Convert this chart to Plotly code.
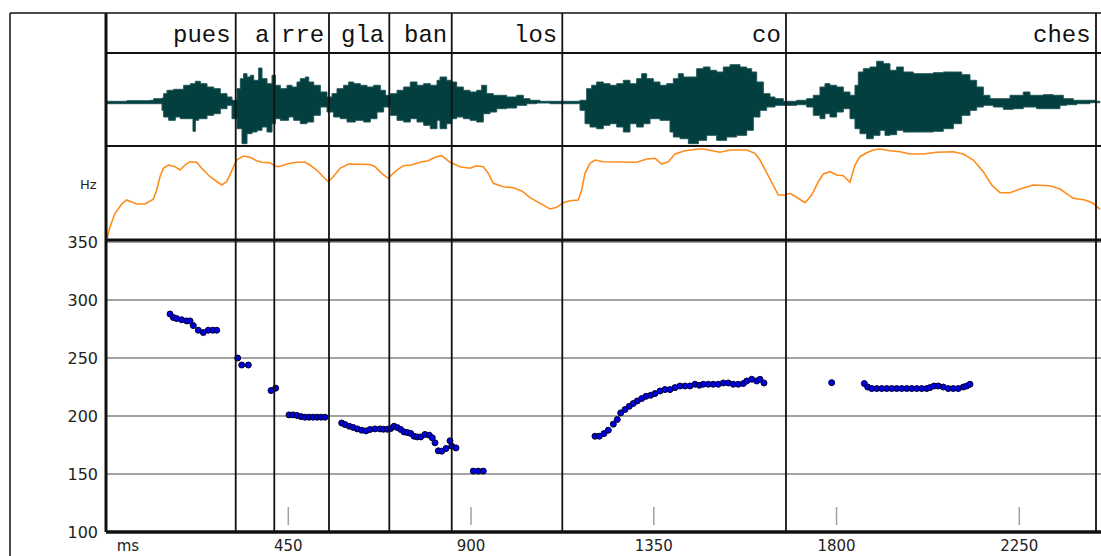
import plotly.graph_objects as go

# ---------------- data ----------------
syllables = ["pues", "a", "rre", "gla", "ban", "los", "co", "ches"]
syllable_end_ms = [320.5, 415.5, 550.2, 698.7, 852.4, 1124.7, 1675.5, 2438.9]

f0_ms = [158.7, 166.8, 175.2, 187.5, 199.8, 208, 216.1, 228.4, 240.7, 253, 263.8, 273.7,
         325.4, 335.3, 351.5,
         407.4, 419,
         451.7, 461.6, 471.4, 481.3, 491.1, 501, 510.8, 520.7, 530.5, 540.4,
         581.5, 589.6, 600.2, 610.1, 619.9, 630.7, 641.3, 651.2, 663.5, 675.8, 683.9, 693.8,
         702.2, 710.3, 718.4, 726.8, 734.9, 743, 751.4, 759.5, 767.6, 776, 786.6, 797.2,
         804.6, 811.2, 819.4, 827.7, 838.3, 848.2, 852.4, 862.9,
         905.5, 917.9, 930.2,
         1205.2, 1215.8, 1227.4, 1238, 1250.3, 1260.1, 1268.5, 1279.1, 1289.7, 1299.5,
         1309.4, 1320.2, 1330.8, 1342.4, 1353, 1365.3, 1377.6, 1389.9, 1402.2, 1414.5,
         1426.8, 1439.2, 1451.5, 1462.1, 1471.9, 1484.2, 1496.5, 1508.8, 1521.1, 1533.5,
         1545.8, 1558.1, 1570.4, 1578.8, 1591.1, 1603.4, 1611.5, 1621.4,
         1788,
         1868.4, 1876.7, 1886.6, 1898.9, 1911.2, 1923.5, 1935.8, 1948.1, 1960.4, 1972.8,
         1985.1, 1997.4, 2009.7, 2022, 2030.1, 2040, 2050.6, 2062.9, 2075.2, 2087.5,
         2099.8, 2112.1, 2120.5, 2128.6]
f0_hz = [288, 285, 284, 283, 282, 282, 278, 274, 272, 274, 274, 274,
         250, 244, 244,
         222, 224,
         201, 201, 200.5, 199.5, 199, 199, 199, 199, 199, 199,
         194, 192.7, 191.2, 190.1, 188.9, 187.8, 187.2, 188.4, 188.9, 188.9, 188.6, 188.6,
         189.2, 191.2, 190.1, 188.4, 186.3, 185.8, 185, 182.6, 182, 182, 184.1, 183.5,
         181.2, 176.9, 170, 169.7, 172, 178.6, 174, 172.5,
         152.5, 152.5, 152.5,
         182.6, 182.6, 184.9, 187.8, 193, 197, 202.7, 205.6, 208.4, 210.8,
         213, 215.1, 217, 217.9, 219.4, 221.6, 222.8, 222.8, 224.5, 225.9,
         225.9, 225.9, 227.4, 226.5, 227.4, 227.4, 227.4, 227.4, 228.5, 228.5,
         227.4, 227.4, 228, 230.2, 231.7, 230.2, 231.7, 228.5,
         228.8,
         228, 225, 223.7, 223.7, 223.7, 223.7, 223.7, 223.7, 223.7, 223.7,
         223.7, 223.7, 223.7, 223.7, 224.5, 225.9, 225.9, 225, 223.7, 223.7,
         223.7, 225, 225.9, 227.4]

contour_ms = [3.6, 11, 23.3, 39.8, 52.1, 64.4, 76.7, 97.1, 117.6, 126, 134.1, 142.2, 154.5,
              171, 183.3, 195.6, 207.9, 224.4, 236.8, 257.2, 273.7, 286, 298.3, 310.6,
              322.9, 339.2, 355.7, 372.2, 384.5, 404.9, 417.3, 425.4, 437.7, 454.2, 470.7,
              491.1, 503.4, 519.9, 536.2, 548.5, 560.8, 577.3, 597.7, 626.5, 651.2, 663.5,
              680, 696.3, 712.7, 733.2, 753.9, 774.3, 794.7, 811.2, 827.7, 848.2, 872.8,
              897.4, 913.9, 930.2, 942.5, 954.8, 979.4, 1004, 1024.7, 1045.2, 1065.6,
              1094.4, 1110.9, 1127.2, 1143.7, 1164.1, 1172.5, 1180.6, 1192.9, 1205.2,
              1225.7, 1266.8, 1307.9, 1332.5, 1353, 1369.5, 1385.7, 1402.2, 1426.8,
              1459.6, 1471.9, 1513, 1537.6, 1578.8, 1599.2, 1611.5, 1628, 1644.3, 1656.6,
              1673.1, 1685.4, 1701.9, 1722.3, 1738.8, 1755.1, 1767.4, 1783.9, 1800.4,
              1816.6, 1833.1, 1845.4, 1857.7, 1874.3, 1890.5, 1907, 1931.6, 1956.3,
              1980.9, 2013.6, 2046.6, 2087.5, 2112.1, 2136.8, 2161.4, 2182.1, 2202.5,
              2227.1, 2251.8, 2284.5, 2325.6, 2350.2, 2383, 2411.8, 2432.2, 2448.7]
contour_level = [1.7, 13.3, 26.7, 36, 40, 38.3, 36, 36, 40.7, 50, 63.3, 71.7, 75,
                 73.3, 70, 75, 78.3, 77.7, 71.7, 63.3, 58.3, 55, 58.3, 70,
                 80, 84, 82.7, 79.3, 77.7, 77.3, 74, 73.3, 75, 76.7, 77.7,
                 77.7, 75, 70, 63.3, 58.3, 63.3, 71.7, 76, 76, 75.5, 73.3,
                 66.7, 61.7, 68.3, 74.3, 75, 77.7, 79.3, 82.7, 84.3, 77.7, 73.3,
                 71.7, 74.3, 73.3, 66.7, 56.7, 53.3, 52.3, 49, 42.3, 37.7,
                 31, 32.7, 37.3, 39.3, 40, 50, 66.7, 76.7, 80,
                 78.3, 77.7, 77.7, 81, 81.7, 76, 78.3, 86, 89.3,
                 91, 91, 87.7, 90, 90, 86.7, 80, 66.7, 53.3, 45,
                 45, 46.7, 42.7, 37.3, 45, 58.3, 66, 68.3, 65,
                 64.3, 57.7, 75, 83.3, 87.3, 90, 91, 89.3, 88.3,
                 86, 86, 87.7, 88.3, 86, 80, 68.3, 55, 47.3,
                 47.3, 51, 55, 54.3, 51, 41.7, 40, 36.7, 30.7]

wave_upper_ms = [3.6, 52.8, 110.3, 118.5, 139, 143.1, 151.3, 167.7, 192.4, 208.8, 221.1, 233.4,
                 249.8, 266.2, 282.6, 299.1, 311.4, 323.7, 331.9, 340.1, 348.3, 356.5, 364.7,
                 377, 385.2, 397.6, 409.9, 418.1, 430.4, 446.8, 459.1, 471.4, 479.6, 492,
                 500.2, 512.5, 528.9, 545.3, 557.6, 569.9, 586.3, 598.7, 611, 627.4, 643.8,
                 660.2, 676.6, 689, 701.3, 717.7, 734.1, 750.5, 766.9, 783.3, 799.8, 816.2,
                 823.6, 840, 852.3, 864.6, 881, 897.4, 913.8, 926.2, 938.5, 954.9, 971.3,
                 987.7, 1012.3, 1028.8, 1045.2, 1069.8, 1151.9, 1168.3, 1184.7, 1197, 1209.3,
                 1225.7, 1242.2, 1258.6, 1275, 1291.4, 1307.8, 1320.1, 1332.5, 1348.9, 1365.3,
                 1381.7, 1398.1, 1410.4, 1422.7, 1439.2, 1455.6, 1472, 1488.4, 1504.8, 1521.2,
                 1537.7, 1562.3, 1578.7, 1591, 1603.3, 1619.8, 1636.2, 1648.5,
                 1668.9, 1701.8, 1726.4, 1742.8, 1759.2, 1771.5, 1783.8, 1800.3, 1816.7,
                 1833.1, 1845.4, 1853.6, 1865.9, 1882.3, 1898.8, 1915.2, 1931.6, 1948,
                 1964.4, 1989, 2013.7, 2038.3, 2062.9, 2087.5, 2108.1, 2128.6, 2145, 2161.4,
                 2177.8, 2202.5, 2227.1, 2259.9, 2276.3, 2309.2, 2333.8, 2358.4, 2383,
                 2407.7, 2436.4, 2448.7]
wave_upper_amp = [0.7, 1.3, 1.7, 3.3, 4, 8.3, 11.7, 12.7, 16.7, 18.3, 20.7, 18.3,
                  15, 13.3, 8.3, 5, 1.7, 13.3, 23.3, 28.3, 25, 26.7, 21.7,
                  34, 23.3, 18.3, 26.7, 16.7, 13.3, 16.7, 15, 20, 23.3, 25,
                  20, 16.7, 10, 5, 8.3, 13.3, 16.7, 20, 18.3, 16.7, 15,
                  16.7, 11.7, 6.7, 8.3, 11.7, 15, 20, 16.7, 18.3, 16.7, 21.7,
                  25, 21.7, 20, 15, 11.7, 10, 11.7, 16.7, 8.3, 6.7, 6.7,
                  5, 6.7, 3.3, 1.7, 0.7, 0.7, 1.7, 13.3, 16.7, 20,
                  18.3, 16.7, 18.3, 21.7, 18.3, 23.3, 28.3, 23.3, 20, 16.7,
                  18.3, 23.3, 28.3, 25, 25, 33.3, 35, 31.7, 30, 35,
                  37.3, 35, 33.3, 30, 20, 8.3, 5, 3.3,
                  0.7, 1.7, 3.3, 6.7, 15, 18.3, 16.7, 15, 10,
                  6.7, 16.7, 30, 33.3, 35, 40.7, 38.3, 31.7, 35,
                  30, 28.3, 28.3, 29.3, 30, 30, 27.3, 21.7, 15, 6.7,
                  3.3, 3.3, 6.7, 10, 6.7, 7.3, 6.7, 3.3, 1.7,
                  1.7, 0.7, 0]
wave_lower_ms = [3.6, 52.8, 139, 143.1, 155.4, 171.8, 184.1, 204.7, 215.3, 221.1, 229.3, 249.8,
                 266.2, 282.6, 299.1, 311.4, 323.7, 336, 348.3, 360.6, 372.9, 385.2, 397.6,
                 409.9, 418.1, 430.4, 450.9, 463.2, 479.6, 496, 512.5, 528.9, 545.3, 561.7,
                 578.1, 594.6, 615.1, 635.6, 652, 668.4, 684.8, 701.3, 717.7, 734.1, 750.5,
                 766.9, 783.3, 799.8, 816.2,
                 823.6, 840, 852.3, 864.6, 881, 897.4, 913.8, 930.2, 946.7, 963.1, 987.7,
                 1012.3, 1037, 1061.6, 1094.4, 1168.3, 1180.6, 1192.9, 1209.3, 1225.7, 1242.2,
                 1258.6, 1275, 1291.4, 1307.8, 1324.2, 1340.7, 1365.3, 1389.9, 1398.1, 1414.5,
                 1435.1, 1459.7, 1480.2, 1504.8, 1529.4, 1554, 1578.7, 1595.1, 1611.5, 1627.9,
                 1648.5,
                 1668.9, 1701.8, 1726.4, 1742.8, 1759.2, 1771.5, 1783.8, 1800.3, 1816.7,
                 1833.1, 1845.4, 1857.7, 1874.1, 1890.5, 1907, 1919.3, 1931.6, 1948, 1964.4,
                 1989, 2013.7, 2038.3, 2062.9, 2087.5, 2108.1, 2128.6, 2145, 2161.4, 2186,
                 2210.7, 2235.3, 2259.9, 2292.7, 2325.6, 2350.2, 2366.6, 2391.2, 2424.1, 2448.7]
wave_lower_amp = [-0.7, -1.7, -1.7, -8.3, -15, -18.3, -15, -16.7, -16.7, -29.3, -18.3, -16.7,
                  -13.3, -11.7, -6.7, -3.3, -16.7, -26.7, -41.7, -31.7, -30, -28.3, -25,
                  -30, -21.7, -16.7, -18.3, -15, -18.3, -21.7, -20, -13.3, -5, -10,
                  -15, -16.7, -20, -18.3, -20, -16.7, -10, -5, -13.3, -18.3, -20,
                  -16.7, -20, -23.3, -26.7,
                  -18.3, -26.7, -21.7, -16.7, -15, -16.7, -18.3, -20, -11.7, -10, -6.7,
                  -6, -3.3, -1.7, -1, -1.7, -8.3, -21.7, -25, -26.7, -23.3,
                  -21.7, -25, -30, -21.7, -25, -21.7, -16.7, -18.3, -30, -35,
                  -36.7, -41.7, -38.3, -33.3, -38.3, -35, -33.3, -28.3, -15, -8.3,
                  -5,
                  -3.3, -3.3, -2.7, -5, -13.3, -16.7, -11.7, -15, -10,
                  -6.7, -16.7, -26.7, -31.7, -36.7, -33.3, -28.3, -33.3, -32.7, -28.3,
                  -30, -30, -30, -29.3, -26.7, -21.7, -13.3, -8.3, -5, -3.3,
                  -5, -7.3, -6.7, -5, -6.7, -6.7, -3.3, -2.7, -1.7, -0.7]

x_tick_vals = [55, 450, 900, 1350, 1800, 2250]
x_tick_text = ["ms", "450", "900", "1350", "1800", "2250"]
y_tick_vals = [100, 150, 200, 250, 300, 350]
y_tick_text = ["100", "150", "200", "250", "300", "350"]

# ---------------- figure ----------------
W, H = 1101, 556
L, R, T, B = 106, 0, 13, 24
plot_h = H - T - B

def py(p):  # pixel row -> paper y
    return (H - B - p) / plot_h

def px(p):  # pixel col -> paper x
    return (p - L) / (W - L - R)

d_text = [py(53), 1]
d_wave = [py(146), py(53)]
d_cont = [py(240), py(146)]
d_pitch = [0, py(240)]

fig = go.Figure()

# waveform (filled envelope)
env_x = wave_upper_ms + wave_lower_ms[::-1]
env_y = wave_upper_amp + wave_lower_amp[::-1]
fig.add_trace(go.Scatter(x=env_x, y=env_y, yaxis="y3", mode="lines",
                         fill="toself", fillcolor="#033f3f",
                         line=dict(color="#1f5757", width=1, shape="hv"), hoverinfo="skip"))

# orange contour
fig.add_trace(go.Scatter(x=contour_ms, y=contour_level, yaxis="y2", mode="lines",
                         line=dict(color="#ff8c1a", width=1.6), hoverinfo="skip"))

# short inner tick marks in pitch panel
tx, ty = [], []
for v in x_tick_vals[1:]:
    tx += [v, v, None]
    ty += [106, 121.5, None]
fig.add_trace(go.Scatter(x=tx, y=ty, mode="lines", line=dict(color="#a0a0a0", width=1.5),
                         hoverinfo="skip"))

# pitch points
fig.add_trace(go.Scatter(x=f0_ms, y=f0_hz, mode="markers",
                         marker=dict(size=6, color="#0000e0", line=dict(color="#000033", width=1)),
                         hoverinfo="skip"))

shapes = []
# segment boundaries
for b in syllable_end_ms:
    shapes.append(dict(type="line", xref="x", yref="paper", x0=b, x1=b, y0=0, y1=1,
                       line=dict(color="#111111", width=1.8), layer="above"))
# horizontal panel borders
for yv, w in [(d_text[0], 2), (d_wave[0], 2), (d_cont[0], 3), (0, 3.5), (1, 1.5)]:
    shapes.append(dict(type="line", xref="paper", yref="paper", x0=0, x1=1, y0=yv, y1=yv,
                       line=dict(color="#111111", width=w), layer="above"))
# left inner border
shapes.append(dict(type="line", xref="paper", yref="paper", x0=0, x1=0, y0=0, y1=1,
                   line=dict(color="#111111", width=3), layer="above"))
# outer frame
shapes.append(dict(type="line", xref="paper", yref="paper", x0=px(10), x1=px(10),
                   y0=py(556), y1=1, line=dict(color="#111111", width=1.5)))
shapes.append(dict(type="line", xref="paper", yref="paper", x0=px(10), x1=0,
                   y0=1, y1=1, line=dict(color="#111111", width=1.5)))

annotations = []
for s, b in zip(syllables, syllable_end_ms):
    annotations.append(dict(text=s, x=b, xref="x", y=py(35), yref="paper",
                            xanchor="right", yanchor="middle", xshift=-3, showarrow=False,
                            font=dict(family="Liberation Mono, Courier New, monospace",
                                      size=24, color="#111111")))
annotations.append(dict(text="Hz", x=0, xref="paper", y=py(184), yref="paper",
                        xanchor="right", yanchor="middle", xshift=-7, showarrow=False,
                        font=dict(family="DejaVu Sans", size=13, color="#222222")))

tick_font = dict(family="DejaVu Sans, Verdana, sans-serif", size=15, color="#222222")

fig.update_layout(
    width=W, height=H, margin=dict(l=L, r=R, t=T, b=B, autoexpand=False),
    paper_bgcolor="white", plot_bgcolor="white", showlegend=False,
    xaxis=dict(range=[1.1, 2451.2], tickvals=x_tick_vals, ticktext=x_tick_text,
               showgrid=False, zeroline=False, showline=False, ticks="", automargin=False,
               tickfont=tick_font, ticklabelstandoff=3, fixedrange=True),
    yaxis=dict(domain=d_pitch, range=[100, 351.8], tickvals=y_tick_vals, ticktext=y_tick_text,
               showgrid=True, gridcolor="#a3a3a3", gridwidth=1.5, zeroline=False,
               automargin=False,
               showline=False, ticks="", tickfont=dict(family="DejaVu Sans, Verdana, sans-serif",
                                                       size=16, color="#222222"),
               ticklabelstandoff=7),
    yaxis2=dict(domain=d_cont, range=[0, 94], visible=False),
    yaxis3=dict(domain=d_wave, range=[-44, 49], visible=False),
    shapes=shapes, annotations=annotations,
)

fig.write_html("out.html")
